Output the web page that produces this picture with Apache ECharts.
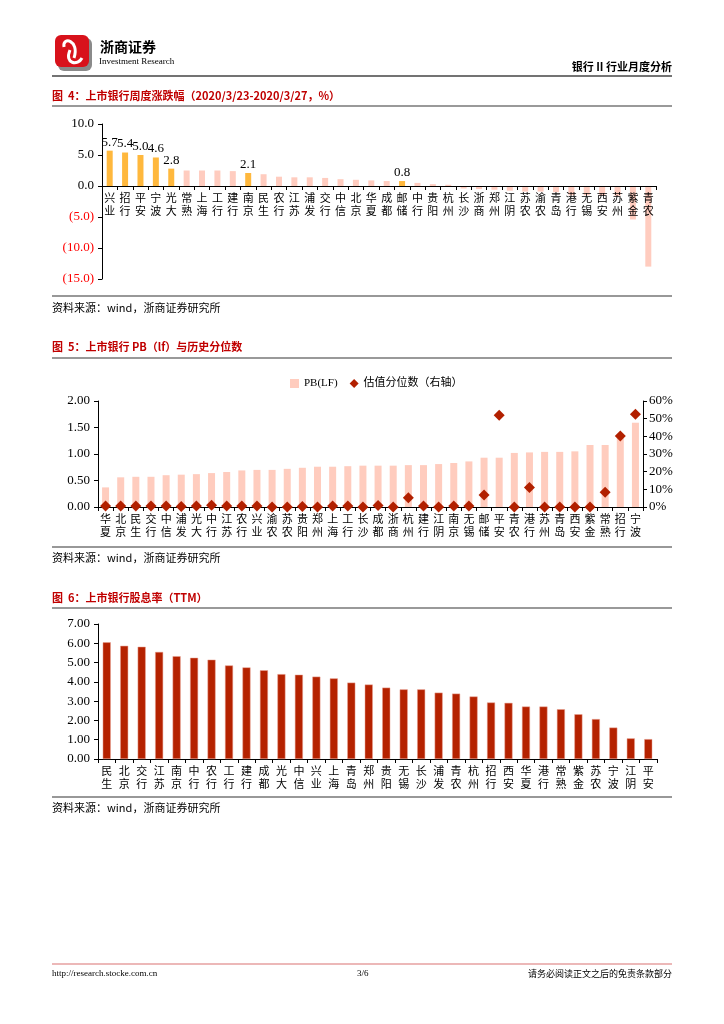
<!DOCTYPE html>
<html><head><meta charset="utf-8">
<script src="https://cdn.jsdelivr.net/npm/echarts@6/dist/echarts.min.js"></script>
<style>html,body{margin:0;padding:0;background:#fff}#c{width:724px;height:1024px}</style>
</head><body><div id="c"></div>
<script>
// Chart 4: weekly change
const cats1 = ['兴业','招行','平安','宁波','光大','常熟','上海','工行','建行','南京','民生','农行','江苏','浦发','交行','中信','北京','华夏','成都','邮储','中行','贵阳','杭州','长沙','浙商','郑州','江阴','苏农','渝农','青岛','港行','无锡','西安','苏州','紫金','青农'];
const vals1 = [5.7,5.4,5.0,4.6,2.8,2.5,2.5,2.5,2.4,2.1,1.9,1.5,1.4,1.4,1.3,1.1,1.0,0.9,0.8,0.8,0.5,0.3,0.2,-0.4,-0.5,-0.6,-0.75,-0.9,-0.9,-1.0,-1.5,-1.5,-1.5,-1.6,-5.4,-13.0];
const highlight1 = ['兴业','招行','平安','宁波','光大','南京','邮储'];
// Chart 5: PB and percentile
const cats2 = ['华夏','北京','民生','交行','中信','浦发','光大','中行','江苏','农行','兴业','渝农','苏农','贵阳','郑州','上海','工行','长沙','成都','浙商','杭州','建行','江阴','南京','无锡','邮储','平安','青农','港行','苏州','青岛','西安','紫金','常熟','招行','宁波'];
const pb2 = [0.37,0.56,0.57,0.57,0.60,0.61,0.62,0.64,0.66,0.69,0.70,0.70,0.72,0.74,0.76,0.76,0.77,0.78,0.78,0.78,0.79,0.79,0.81,0.83,0.86,0.93,0.93,1.02,1.03,1.04,1.04,1.05,1.17,1.17,1.38,1.59];
const pct2 = [0.5,0.5,0.5,0.5,0.5,0.3,0.5,1.0,0.5,0.5,0.5,0,0,0.3,0,0.5,0.5,0,0.8,0,5.3,0.5,0,0.5,0.5,6.8,51.9,0,11.0,0,0,0,0,8.3,40.2,52.5];
// Chart 6: dividend yield
const cats3 = ['民生','北京','交行','江苏','南京','中行','农行','工行','建行','成都','光大','中信','兴业','上海','青岛','郑州','贵阳','无锡','长沙','浦发','青农','杭州','招行','西安','华夏','港行','常熟','紫金','苏农','宁波','江阴','平安'];
const vals3 = [6.05,5.87,5.82,5.55,5.33,5.25,5.15,4.85,4.75,4.60,4.40,4.37,4.27,4.18,3.96,3.86,3.70,3.61,3.61,3.44,3.39,3.24,2.93,2.91,2.72,2.72,2.58,2.32,2.07,1.63,1.07,1.03];
const yTicks2R = ['0%','10%','20%','30%','40%','50%','60%'];

const serif = 'Liberation Serif';
const cjk = 'Noto Sans CJK SC';
const vert = s => s.split('').join('\n');

const chart = echarts.init(document.getElementById('c'), null, {renderer:'canvas'});

function line(x1,y1,x2,y2,color,w){return {type:'line',shape:{x1:x1,y1:y1,x2:x2,y2:y2},style:{stroke:color,lineWidth:w}};}
function ts(x,y,text,extra){const s=Object.assign({text:text,fill:'#000',font:'12px '+cjk,textVerticalAlign:'middle'},extra||{});return {type:'text',x:x,y:y,style:s};}

const titleStyle = {fill:'#C00000', font:'bold 11px '+cjk};
const srcStyle = {fill:'#000', font:'11px '+cjk};

const graphics = [
  // logo
  {type:'rect',shape:{x:58,y:38,width:34,height:33,r:6},style:{fill:'#8a8a8a'}},
  {type:'rect',shape:{x:55,y:35,width:34,height:32,r:6},style:{fill:'#D8121B'}},
  {type:'bezierCurve',shape:{x1:64,y1:47,x2:74,y2:58,cpx1:62,cpy1:36,cpx2:80,cpy2:40},style:{stroke:'#fff',lineWidth:3,fill:null}},
  {type:'bezierCurve',shape:{x1:70,y1:50,x2:82,y2:58,cpx1:64,cpy1:64,cpx2:78,cpy2:66},style:{stroke:'#fff',lineWidth:3,fill:null}},
  ts(100,47,'浙商证券',{font:'bold 14px '+cjk}),
  ts(99,62,'Investment Research',{font:'9px Liberation Sans Narrow, '+serif}),
  ts(672,67,'银行 II 行业月度分析',{font:'bold 11px '+cjk,textAlign:'right'}),
  line(52,76,672,76,'#444',1.5),
  // chart 4
  ts(52,96,'图  4：上市银行周度涨跌幅（2020/3/23-2020/3/27，%）',titleStyle),
  line(52,106,672,106,'#999',2),
  line(52,296,672,296,'#333',1.2),
  ts(52,308,'资料来源：wind，浙商证券研究所',srcStyle),
  // chart 5
  ts(52,347,'图  5：上市银行 PB（lf）与历史分位数',titleStyle),
  line(52,358,672,358,'#999',2),
  line(52,547,672,547,'#333',1.2),
  ts(52,558,'资料来源：wind，浙商证券研究所',srcStyle),
  // chart 6
  ts(52,598,'图  6：上市银行股息率（TTM）',titleStyle),
  line(52,608,672,608,'#999',2),
  line(52,797,672,797,'#333',1.2),
  ts(52,808,'资料来源：wind，浙商证券研究所',srcStyle),
  // footer
  line(52,964,672,964,'#E6A0A0',1.5),
  ts(52,974,'http://research.stocke.com.cn',{font:'9px '+serif}),
  ts(357,974,'3/6',{font:'9px '+serif}),
  ts(672,974,'请务必阅读正文之后的免责条款部分',{font:'9px '+cjk,textAlign:'right'})
];

const axisBlack = {lineStyle:{color:'#000',width:1}};
const catLabel = {interval:0, fontFamily:cjk, fontSize:11, lineHeight:13, color:'#000', formatter: v=>vert(v), margin:5};

const option = {
  animation:false,
  backgroundColor:'#fff',
  graphic:graphics,
  legend:{
    data:[{name:'PB(LF)',icon:'rect'},{name:'估值分位数（右轴）',icon:'diamond'}],
    top:373, left:285, itemWidth:9, itemHeight:9, itemGap:12,
    textStyle:{fontFamily:serif+', '+cjk, fontSize:11, color:'#000'}
  },
  grid:[
    {left:102, right:68, top:124, bottom:745},
    {left:98, right:81, top:401, bottom:517},
    {left:98, right:67, top:624, bottom:265}
  ],
  xAxis:[
    {gridIndex:0,type:'category',data:cats1,offset:-93,z:10,axisLine:{onZero:false,lineStyle:{color:'#000',width:1}},axisTick:{show:true,interval:0,length:4,lineStyle:{color:'#000'}},axisLabel:catLabel},
    {gridIndex:1,type:'category',data:cats2,axisLine:axisBlack,axisTick:{show:true,interval:0,length:4,lineStyle:{color:'#000'}},axisLabel:catLabel},
    {gridIndex:2,type:'category',data:cats3,axisLine:axisBlack,axisTick:{show:true,interval:0,length:4,lineStyle:{color:'#000'}},axisLabel:catLabel}
  ],
  yAxis:[
    {gridIndex:0,type:'value',min:-15,max:10,interval:5,splitLine:{show:false},axisLine:{show:true,lineStyle:{color:'#000'}},axisTick:{show:true,length:4,lineStyle:{color:'#000'}},
     axisLabel:{fontFamily:serif,fontSize:13,margin:8,formatter:v=> v<0?'{r|('+Math.abs(v).toFixed(1)+')}':v.toFixed(1), color:'#000', rich:{r:{color:'#FF0000',fontFamily:serif,fontSize:13}}}},
    {gridIndex:1,type:'value',min:0,max:2,interval:0.5,splitLine:{show:false},axisLine:{show:true,lineStyle:{color:'#000'}},axisTick:{show:true,length:4,lineStyle:{color:'#000'}},
     axisLabel:{fontFamily:serif,fontSize:13,color:'#000',margin:8,formatter:v=>v.toFixed(2)}},
    {gridIndex:1,type:'value',position:'right',min:0,max:60,interval:10,splitLine:{show:false},axisLine:{show:true,lineStyle:{color:'#000'}},axisTick:{show:true,length:4,lineStyle:{color:'#000'}},
     axisLabel:{fontFamily:serif,fontSize:13,color:'#000',margin:6,formatter:v=>yTicks2R[Math.round(v/10)]}},
    {gridIndex:2,type:'value',min:0,max:7,interval:1,splitLine:{show:false},axisLine:{show:true,lineStyle:{color:'#000'}},axisTick:{show:true,length:4,lineStyle:{color:'#000'}},
     axisLabel:{fontFamily:serif,fontSize:13,color:'#000',margin:8,formatter:v=>v.toFixed(2)}}
  ],
  series:[
    {type:'bar',xAxisIndex:0,yAxisIndex:0,barWidth:6,z:1,
     data:vals1.map((v,i)=>{const h=highlight1.includes(cats1[i]);return {value:v,itemStyle:{color:h?'#FFB83D':'#FFCCBF'},
       label:{show:h,position:'top',distance:2,fontFamily:serif,fontSize:13,color:'#000',formatter:p=>p.value.toFixed(1)}};})},
    {name:'PB(LF)',type:'bar',xAxisIndex:1,yAxisIndex:1,barWidth:7,itemStyle:{color:'#FFCCBE'},data:pb2},
    {name:'估值分位数（右轴）',type:'scatter',xAxisIndex:1,yAxisIndex:2,symbol:'diamond',symbolSize:11,itemStyle:{color:'#B22000',opacity:1},data:pct2},
    {type:'bar',xAxisIndex:2,yAxisIndex:3,barWidth:8,itemStyle:{color:'#B52200',borderColor:'#E8A090',borderWidth:0.5},data:vals3}
  ]
};
chart.setOption(option);
</script></body></html>
